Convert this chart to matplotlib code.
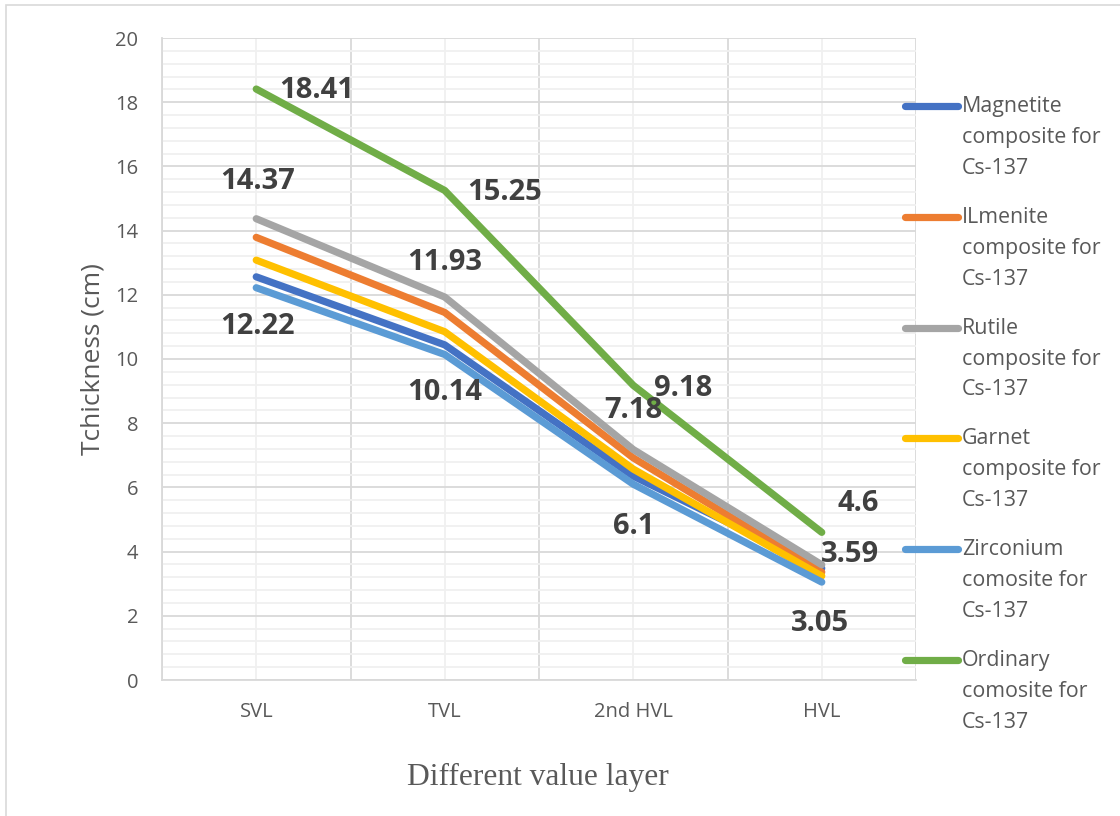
import matplotlib
matplotlib.use("Agg")
import matplotlib.pyplot as plt
from matplotlib.lines import Line2D
from matplotlib.patches import Rectangle
from matplotlib.ticker import MultipleLocator

# ---- data ----
categories = ["SVL", "TVL", "2nd HVL", "HVL"]
series_names = [
    "Magnetite\ncomposite for\nCs-137",
    "ILmenite\ncomposite for\nCs-137",
    "Rutile\ncomposite for\nCs-137",
    "Garnet\ncomposite for\nCs-137",
    "Zirconium\ncomosite for\nCs-137",
    "Ordinary\ncomosite for\nCs-137",
]
magnetite = [12.56, 10.44, 6.35, 3.48]
ilmenite = [13.79, 11.45, 6.92, 3.36]
rutile = [14.37, 11.93, 7.18, 3.59]
garnet = [13.08, 10.85, 6.57, 3.24]
zirconium = [12.22, 10.14, 6.10, 3.05]
ordinary = [18.41, 15.25, 9.18, 4.60]
series_values = [magnetite, ilmenite, rutile, garnet, zirconium, ordinary]
colors = ["#4472C4", "#ED7D31", "#A5A5A5", "#FFC000", "#5B9BD5", "#70AD47"]

y_ticks = [0, 2, 4, 6, 8, 10, 12, 14, 16, 18, 20]

# ---- figure ----
W, H = 1120, 816
fig = plt.figure(figsize=(W / 100, H / 100), dpi=100)
fig.patch.set_facecolor("white")

def fx(px):
    return px / W

def fy(py):
    return 1 - py / H

left, right, top, bottom = 162, 916, 38, 680
ax = fig.add_axes([fx(left), fy(bottom), fx(right - left), (bottom - top) / H])

x = list(range(len(categories)))
for vals, c in zip(series_values, colors):
    ax.plot(x, vals, color=c, lw=5.2, solid_capstyle="round",
            solid_joinstyle="round", zorder=3)

ax.set_xlim(-0.5, len(categories) - 0.5)
ax.set_ylim(0, 20)

# grid
ax.set_yticks(y_ticks)
ax.yaxis.set_minor_locator(MultipleLocator(0.4))
ax.set_xticks(x)
ax.set_xticks([i - 0.5 for i in range(len(categories) + 1)], minor=True)
ax.grid(which="major", axis="y", color="#D9D9D9", lw=1.3, zorder=0)
ax.grid(which="minor", axis="y", color="#F0F0F0", lw=1.3, zorder=0)
ax.grid(which="minor", axis="x", color="#D9D9D9", lw=1.3, zorder=0)
ax.grid(which="major", axis="x", color="#F0F0F0", lw=1.3, zorder=0)
ax.set_axisbelow(True)

for s in ["top", "right"]:
    ax.spines[s].set_visible(False)
for s in ["left", "bottom"]:
    ax.spines[s].set_color("#D9D9D9")
    ax.spines[s].set_linewidth(1.3)

ax.tick_params(which="both", length=0)
ax.tick_params(axis="y", pad=17)
ax.tick_params(axis="x", pad=16)
ax.set_xticklabels(categories)
for lab in ax.get_xticklabels() + ax.get_yticklabels():
    lab.set_fontfamily("Open Sans")
    lab.set_fontsize(14.5)
    lab.set_color("#595959")

ax.set_ylabel("Tchickness (cm)", fontfamily="Open Sans", fontsize=19,
              color="#595959")
ax.yaxis.set_label_coords((105 - left) / (right - left), 0.5)
fig.text(fx(538), fy(777), "Different value layer", fontfamily="Liberation Serif",
         fontsize=22.7, color="#595959", ha="center", va="center")

# data labels (offsets in pixels)
label_specs = [
    (ordinary, [(60, -1), (60, -2), (50, -3), (36, 29)]),
    (rutile, [(1, 37), (0, 35), (0, 39), (28, 10)]),
    (zirconium, [(1, -39), (0, -38), (0, -42), (-2, -41)]),
]
for vals, offs in label_specs:
    for xi, (v, (dx, dy)) in enumerate(zip(vals, offs)):
        ax.annotate(f"{v:g}", (xi, v), xytext=(dx, dy), textcoords="offset pixels",
                    ha="center", va="center", fontfamily="Open Sans",
                    fontweight="bold", fontsize=21, color="#404040", zorder=5)

# legend (manual)
for i, (name, c) in enumerate(zip(series_names, colors)):
    yc = 106 + 110.8 * i
    fig.add_artist(Line2D([fx(905), fx(958)], [fy(yc), fy(yc)], color=c, lw=5.2,
                          solid_capstyle="round"))
    fig.text(fx(962), fy(yc - 10), name, fontfamily="Open Sans", fontsize=15.4,
             color="#595959", ha="left", va="top", linespacing=1.62,
             transform=fig.transFigure)

# outer border
fig.add_artist(Rectangle((fx(5.5), fy(830)), fx(1130), (830 - 4.5) / H,
                         transform=fig.transFigure, fill=False,
                         edgecolor="#D9D9D9", lw=1.2))

fig.savefig("out.png", dpi=100, facecolor="white")
